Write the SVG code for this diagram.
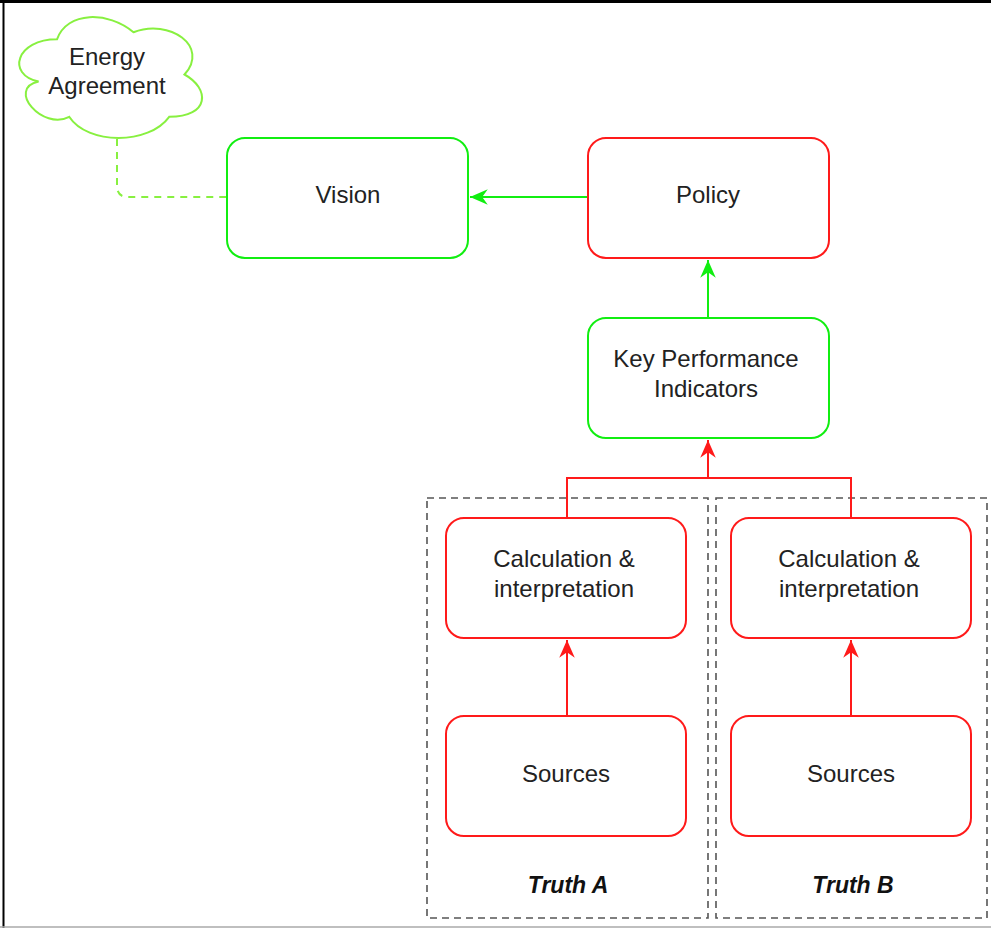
<svg xmlns="http://www.w3.org/2000/svg" width="991" height="928" viewBox="0 0 991 928">
  <style>
    .lbl { font-family: "Liberation Sans", Arial, sans-serif; font-size: 24px; fill: #222; text-anchor: middle; }
    .ttl { font-family: "Liberation Sans", Arial, sans-serif; font-size: 23px; font-weight: bold; font-style: italic; fill: #111; text-anchor: middle; }
    .green { fill: #fff; stroke: #11ee11; stroke-width: 2; }
    .red { fill: #fff; stroke: #ff1a1a; stroke-width: 2; }
    .cloud { fill: #fff; stroke: #88f040; stroke-width: 2; }
    .group { fill: none; stroke: #555; stroke-width: 1.6; stroke-dasharray: 7 5; }
    .edge-g { fill: none; stroke: #11ee11; stroke-width: 2; }
    .edge-r { fill: none; stroke: #ff1a1a; stroke-width: 2; }
    .edge-d { fill: none; stroke: #88f040; stroke-width: 2; stroke-dasharray: 7 6; }
  </style>
  <defs>
    <marker id="arrG" markerUnits="userSpaceOnUse" markerWidth="20" markerHeight="20" viewBox="-17 -8 18 16" refX="0" refY="0" orient="auto">
      <path d="M0,0 L-16,-7 L-11,0 L-16,7 Z" fill="#11ee11"/>
    </marker>
    <marker id="arrR" markerUnits="userSpaceOnUse" markerWidth="20" markerHeight="20" viewBox="-17 -8 18 16" refX="0" refY="0" orient="auto">
      <path d="M0,0 L-16,-7 L-11,0 L-16,7 Z" fill="#ff1a1a"/>
    </marker>
  </defs>

  <!-- page frame -->
  <rect x="0" y="0" width="991" height="928" fill="#fff"/>
  <line x1="0" y1="1.5" x2="991" y2="1.5" stroke="#000" stroke-width="3"/>
  <line x1="3.5" y1="0" x2="3.5" y2="928" stroke="#000" stroke-width="2"/>
  <line x1="0" y1="927" x2="991" y2="927" stroke="#aaa" stroke-width="1.5"/>

  <!-- grouping frames -->
  <g id="truth-a">
    <rect class="group" x="427" y="498" width="281" height="420"/>
    <text class="ttl" x="568" y="893">Truth A</text>
  </g>
  <g id="truth-b">
    <rect class="group" x="716" y="498" width="271" height="420"/>
    <text class="ttl" x="853" y="893">Truth B</text>
  </g>

  <!-- connectors -->
  <g id="connectors">
    <path class="edge-d" d="M117,139 V186 Q117,197 128,197 H227"/>
    <path class="edge-g" d="M588,197 H470" marker-end="url(#arrG)"/>
    <path class="edge-g" d="M708,318 V260" marker-end="url(#arrG)"/>
    <path class="edge-r" d="M567,518 V478 H851 V518"/>
    <path class="edge-r" d="M708,478 V440" marker-end="url(#arrR)"/>
    <path class="edge-r" d="M567,716 V640" marker-end="url(#arrR)"/>
    <path class="edge-r" d="M851,716 V640" marker-end="url(#arrR)"/>
  </g>

  <!-- nodes -->
  <g id="energy-agreement">
    <path class="cloud" d="M57,39.3 C16.2,39.3 6,74.5 38.6,81.6 C6,88.6 42.7,130.9 69.2,116.8 C87.6,145 148.8,145 169.2,116.8 C210,116.8 210,88.6 184.5,74.5 C210,46.3 169.2,18.1 133.5,32.2 C108,11 67.2,11 57,39.3 Z"/>
    <text class="lbl" x="107" y="65">Energy</text>
    <text class="lbl" x="107" y="94">Agreement</text>
  </g>
  <g id="vision">
    <rect class="green" x="227" y="138" width="241" height="120" rx="18"/>
    <text class="lbl" x="348" y="203">Vision</text>
  </g>
  <g id="policy">
    <rect class="red" x="588" y="138" width="241" height="120" rx="18"/>
    <text class="lbl" x="708" y="203">Policy</text>
  </g>
  <g id="kpi">
    <rect class="green" x="588" y="318" width="241" height="120" rx="18"/>
    <text class="lbl" x="706" y="367">Key Performance</text>
    <text class="lbl" x="706" y="397">Indicators</text>
  </g>
  <g id="calc-a">
    <rect class="red" x="446" y="518" width="240" height="120" rx="18"/>
    <text class="lbl" x="564" y="567">Calculation &amp;</text>
    <text class="lbl" x="564" y="597">interpretation</text>
  </g>
  <g id="sources-a">
    <rect class="red" x="446" y="716" width="240" height="120" rx="18"/>
    <text class="lbl" x="566" y="782">Sources</text>
  </g>
  <g id="calc-b">
    <rect class="red" x="731" y="518" width="240" height="120" rx="18"/>
    <text class="lbl" x="849" y="567">Calculation &amp;</text>
    <text class="lbl" x="849" y="597">interpretation</text>
  </g>
  <g id="sources-b">
    <rect class="red" x="731" y="716" width="240" height="120" rx="18"/>
    <text class="lbl" x="851" y="782">Sources</text>
  </g>
</svg>
